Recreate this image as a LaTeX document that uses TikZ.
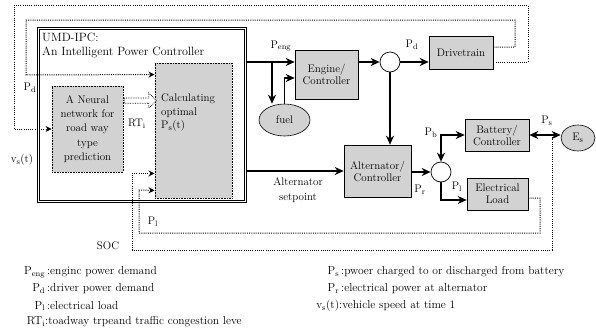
\documentclass[tikz,border=0pt]{standalone}
\usetikzlibrary{arrows.meta,shapes.geometric,shapes.arrows,calc}
\begin{document}
\begin{tikzpicture}[x=1pt,y=-1pt,
  blk/.style={draw, line width=0.6pt, fill=gray!35, align=center, font=\fontsize{11}{12}\selectfont, inner sep=1pt},
  dblk/.style={blk, densely dotted, line width=0.9pt},
  oval/.style={ellipse, draw, line width=0.6pt, fill=gray!35, inner sep=0pt, font=\fontsize{11}{12}\selectfont},
  jn/.style={circle, draw, line width=0.7pt, fill=white, minimum size=20pt, inner sep=0pt},
  arr/.style={line width=1.4pt, -{Stealth[length=9pt,width=8pt]}},
  darr/.style={line width=1.4pt, {Stealth[length=9pt,width=8pt]}-{Stealth[length=9pt,width=8pt]}},
  sig/.style={line width=1pt, dash pattern=on 1pt off 1.2pt},
  sigarr/.style={sig, -{Stealth[length=6pt,width=6pt]}},
  lbl/.style={font=\fontsize{11}{12}\selectfont, inner sep=0pt},
  leg/.style={font=\fontsize{11.5}{13}\selectfont, inner sep=0pt, anchor=west}]
\useasboundingbox (0,0) rectangle (596,335);

% controller frame
\node[draw, line width=1pt, double, double distance=1.4pt, minimum width=207pt, minimum height=173pt] (umd) at (142,115) {};
\node[lbl, font=\fontsize{12}{13.5}\selectfont, align=left, anchor=north west] (title) at (42,33) {UMD-IPC:\\An Intelligent Power Controller};

\node[dblk, minimum width=71pt, minimum height=86pt, font=\fontsize{11}{14.2}\selectfont] (nn) at (87.5,129) {A Neural\\network for\\road way\\type\\prediction};
\node[dblk, minimum width=77pt, minimum height=135pt] (calc) at (193.5,130.5) {};
\node[lbl, align=left, anchor=north west, font=\fontsize{11}{13.5}\selectfont] (calctxt) at (161,94) {Calculating\\optimal\\P$_\mathrm{s}$(t)};

\coordinate (hA) at ($(nn.north east)+(0,15)$);
\coordinate (hB) at (hA -| calc.west);
\node[single arrow, draw, densely dotted, line width=0.7pt, fill=white, minimum height=32pt, minimum width=15pt, single arrow head extend=2.5pt, single arrow head indent=0pt, inner sep=1pt] (hol) at ($(hA)!0.5!(hB)$) {};

\node[lbl] (rt) at (137,124) {RT$_\mathrm{i}$};
\node[lbl] (pd) at (30,88) {P$_\mathrm{d}$};
\node[lbl] (vs) at (22,160) {v$_\mathrm{s}$(t)};

% power path
\node[blk, minimum width=63pt, minimum height=49pt] (eng) at (326.5,74.5) {Engine/\\Controller};
\node[oval, minimum width=51pt, minimum height=32pt] (fuel) at (284.5,120) {fuel};
\node[jn] (c1) at (390,62) {};
\node[blk, minimum width=64pt, minimum height=33pt] (drv) at (461,52.5) {Drivetrain};
\node[blk, minimum width=67pt, minimum height=52pt] (alt) at (377.5,171) {Alternator/\\Controller};
\node[jn] (c2) at (441,172) {};
\node[blk, minimum width=64pt, minimum height=32pt] (bat) at (497,135) {Battery/\\Controller};
\node[oval, minimum width=34pt, minimum height=26pt] (es) at (578,138) {E$_\mathrm{s}$};
\node[blk, minimum width=61pt, minimum height=32pt] (load) at (497.5,194) {Electrical\\Load};

\draw[arr] (umd.east |- c1) -- (eng.west |- c1);
\coordinate (jf) at (272,62);
\draw[arr] (jf) -- (jf |- fuel.north);
\draw[arr] (fuel.north) |- ($(eng.west)+(0,3.5)$);
\draw[arr] (eng.east |- c1) -- (c1.west);
\draw[arr] (c1.east) -- (c1.east -| drv.west);
\draw[arr] (c1.south) -- (c1.south |- alt.north);
\draw[arr] (umd.east |- alt.west) -- (alt.west);
\draw[arr] (alt.east |- c2) -- (c2.west);
\draw[darr] (c2.north) |- (bat.west);
\draw[arr] (c2.south) |- ($(load.west)+(0,6)$);
\draw[darr] (bat.east) -- (bat.east -| es.west);

\node[lbl] (pel) at (281,46) {P$_\mathrm{eng}$};
\node[lbl] (pdl) at (412,45) {P$_\mathrm{d}$};
\node[lbl, align=center, font=\fontsize{11}{15}\selectfont] (spl) at (298,190) {Alternator\\setpoint};
\node[lbl] (prl) at (420,190) {P$_\mathrm{r}$};
\node[lbl] (pbl) at (431,133) {P$_\mathrm{b}$};
\node[lbl] (pll) at (457,187) {P$_\mathrm{l}$};
\node[lbl] (psl) at (547,121) {P$_\mathrm{s}$};

% signal lines
\draw[sigarr] (drv.east |- c1) -| (528,5) -| (14,129) -- (nn.west);
\draw[sigarr] ($(drv.east)+(0,-5.5)$) -| (515,20) -| (26,75) -- ($(calc.north west)+(0,12)$);
\coordinate (soc) at (552,135);
\draw[sigarr] (soc) |- (132,250) |- ($(calc.south west)+(0,-25)$);
\draw[sigarr] ($(load.east)+(0,4)$) -| (540,233) -| (139,190) -- ($(calc.south west)+(0,-8)$);
\node[lbl] (socl) at (108,246) {SOC};
\node[lbl] (pl2) at (153,222) {P$_\mathrm{l}$};

% legend
\node[leg] (g1) at (18,272) {\makebox[27pt][r]{P$_\mathrm{eng}$}\,:enginc power demand};
\node[leg] (g2) at (18,289) {\makebox[27pt][r]{P$_\mathrm{d}$}\,:driver power demand};
\node[leg] (g3) at (18,306) {\makebox[27pt][r]{P$_\mathrm{l}$}\,:electrical load};
\node[leg] (g4) at (18,322) {\makebox[27pt][r]{RT$_\mathrm{i}$}:toadway trpeand traffic congestion leve};
\node[leg] (g5) at (314,272) {\makebox[25pt][r]{P$_\mathrm{s}$}\,:pwoer charged to or discharged from battery};
\node[leg] (g6) at (314,289) {\makebox[25pt][r]{P$_\mathrm{r}$}\,:electrical power at alternator};
\node[leg] (g7) at (314,306) {\makebox[25pt][r]{v$_\mathrm{s}$(t)}:vehicle speed at time 1};
\end{tikzpicture}
\end{document}
